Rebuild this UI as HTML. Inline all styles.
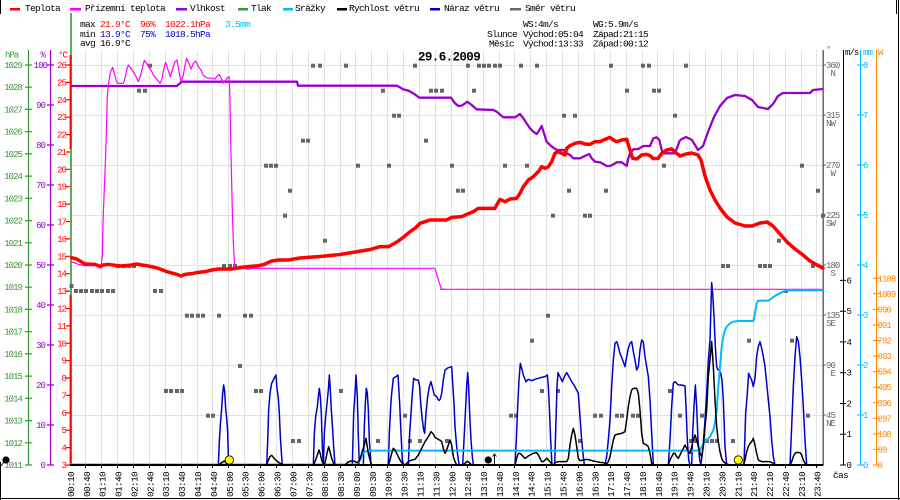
<!DOCTYPE html>
<html><head><meta charset="utf-8"><style>
html,body{margin:0;padding:0;background:#fff;}
svg{display:block;}
text{font-family:"Liberation Mono","DejaVu Sans Mono",monospace;font-size:9.5px;letter-spacing:-0.7px;}
.ax text, text.ax{font-size:9px;letter-spacing:-0.95px;}
</style></head><body>
<svg width="900" height="500" viewBox="0 0 900 500" xmlns="http://www.w3.org/2000/svg">
<rect width="900" height="500" fill="#fff"/>
<!-- borders -->
<path d="M0.5 0V14M0.5 462V500M898.5 0V500M0 498.5H900M896.5 0V14" stroke="#000" stroke-width="1" fill="none"/>

<!-- legend -->
<rect x="10" y="8" width="10" height="2.5" fill="#ff0000"/><text x="25" y="11">Teplota</text>
<rect x="70" y="8" width="11" height="2.5" fill="#ff00ff"/><text x="85" y="11">Přízemní teplota</text>
<rect x="176" y="8" width="11" height="2.5" fill="#9900cc"/><text x="190" y="11">Vlhkost</text>
<rect x="238" y="8" width="10" height="2.5" fill="#339933"/><text x="251" y="11">Tlak</text>
<rect x="283" y="8" width="10" height="2.5" fill="#00bbff"/><text x="295" y="11">Srážky</text>
<rect x="337" y="8" width="10" height="2.5" fill="#000"/><text x="349" y="11">Rychlost větru</text>
<rect x="430" y="8" width="10" height="2.5" fill="#0000cc"/><text x="444" y="11">Náraz větru</text>
<rect x="510" y="8" width="11" height="2.5" fill="#666"/><text x="525" y="11">Směr větru</text>

<!-- stats -->
<text x="80" y="27">max</text><text x="100" y="27" fill="#ff0000">21.9°C</text><text x="140" y="27" fill="#ff0000">96%</text><text x="165" y="27" fill="#ff0000">1022.1hPa</text><text x="225" y="27" fill="#00bbff">3.5mm</text>
<text x="80" y="37">min</text><text x="100" y="37" fill="#0000cc">13.9°C</text><text x="140" y="37" fill="#0000cc">75%</text><text x="165" y="37" fill="#0000cc">1018.5hPa</text>
<text x="80" y="46">avg 16.9°C</text>
<text x="523" y="27">WS:4m/s</text><text x="593" y="27">WG:5.9m/s</text>
<text x="487" y="37">Slunce</text><text x="523" y="37">Východ:05:04</text><text x="593" y="37">Západ:21:15</text>
<text x="489" y="46.5">Měsíc</text><text x="523" y="46.5">Východ:13:33</text><text x="593" y="46.5">Západ:00:12</text>

<!-- grid -->
<path d="M85.5 50V465M101.5 50V465M117.5 50V465M133.5 50V465M149.5 50V465M165.5 50V465M181.5 50V465M197.5 50V465M212.5 50V465M228.5 50V465M244.5 50V465M260.5 50V465M276.5 50V465M292.5 50V465M308.5 50V465M324.5 50V465M340.5 50V465M355.5 50V465M371.5 50V465M387.5 50V465M403.5 50V465M419.5 50V465M435.5 50V465M451.5 50V465M467.5 50V465M483.5 50V465M499.5 50V465M514.5 50V465M530.5 50V465M546.5 50V465M562.5 50V465M578.5 50V465M594.5 50V465M610.5 50V465M626.5 50V465M642.5 50V465M657.5 50V465M673.5 50V465M689.5 50V465M705.5 50V465M721.5 50V465M737.5 50V465M753.5 50V465M769.5 50V465M785.5 50V465M801.5 50V465M816.5 50V465M70 65.5H823M70 115.5H823M70 165.5H823M70 215.5H823M70 265.5H823M70 315.5H823M70 365.5H823M70 415.5H823" stroke="#e4e1e1" stroke-width="1" fill="none"/>

<!-- left axes -->
<path d="M28.5 50V465M25 65H32M25 87.2H32M25 109.4H32M25 131.7H32M25 153.9H32M25 176.1H32M25 198.3H32M25 220.6H32M25 242.8H32M25 265H32M25 287.2H32M25 309.4H32M25 331.7H32M25 353.9H32M25 376.1H32M25 398.3H32M25 420.6H32M25 442.8H32M25 465H32" stroke="#339933" stroke-width="1.2" fill="none"/>
<path d="M50.5 50V465M47 65H54M47 105H54M47 145H54M47 185H54M47 225H54M47 265H54M47 305H54M47 345H54M47 385H54M47 425H54M47 465H54" stroke="#9900cc" stroke-width="1.2" fill="none"/>
<rect x="70.2" y="13" width="1.6" height="452" fill="#339933"/>
<rect x="69.6" y="55" width="2" height="94" fill="#ff0000"/>
<rect x="69.6" y="295" width="2" height="170" fill="#ff0000"/>
<path d="M66 65H70M66 82.4H70M66 99.8H70M66 117.2H70M66 134.6H70M66 152H70M66 169.3H70M66 186.7H70M66 204.1H70M66 221.5H70M66 238.9H70M66 256.3H70M66 273.7H70M66 291.1H70M66 308.5H70M66 325.9H70M66 343.3H70M66 360.7H70M66 378H70M66 395.4H70M66 412.8H70M66 430.2H70M66 447.6H70M66 465H70" stroke="#ff0000" stroke-width="1.2"/>
<text x="5" y="57.5" fill="#339933" class="ax">hPa</text>
<g fill="#339933" text-anchor="end" class="ax">
<text x="22" y="68">1029</text><text x="22" y="90.2">1028</text><text x="22" y="112.4">1027</text><text x="22" y="134.7">1026</text><text x="22" y="156.9">1025</text><text x="22" y="179.1">1024</text><text x="22" y="201.3">1023</text><text x="22" y="223.6">1022</text><text x="22" y="245.8">1021</text><text x="22" y="268">1020</text><text x="22" y="290.2">1019</text><text x="22" y="312.4">1018</text><text x="22" y="334.7">1017</text><text x="22" y="356.9">1016</text><text x="22" y="379.1">1015</text><text x="22" y="401.3">1014</text><text x="22" y="423.6">1013</text><text x="22" y="445.8">1012</text><text x="22" y="468">1011</text>
</g>
<g fill="#9900cc" text-anchor="end" class="ax">
<text x="45" y="57.5">%</text>
<text x="47" y="68">100</text><text x="45" y="108">90</text><text x="45" y="148">80</text><text x="45" y="188">70</text><text x="45" y="228">60</text><text x="45" y="268">50</text><text x="45" y="308">40</text><text x="45" y="348">30</text><text x="45" y="388">20</text><text x="45" y="428">10</text><text x="45" y="468">0</text>
</g>
<g fill="#ff0000" text-anchor="end" class="ax">
<text x="67" y="57.5">°C</text>
<text x="66" y="68">26</text><text x="66" y="85.4">25</text><text x="66" y="102.8">24</text><text x="66" y="120.2">23</text><text x="66" y="137.6">22</text><text x="66" y="155">21</text><text x="66" y="172.3">20</text><text x="66" y="189.7">19</text><text x="66" y="207.1">18</text><text x="66" y="224.5">17</text><text x="66" y="241.9">16</text><text x="66" y="259.3">15</text><text x="66" y="276.7">14</text><text x="66" y="294.1">13</text><text x="66" y="311.5">12</text><text x="66" y="328.9">11</text><text x="66" y="346.3">10</text><text x="66" y="363.7">9</text><text x="66" y="381">8</text><text x="66" y="398.4">7</text><text x="66" y="415.8">6</text><text x="66" y="433.2">5</text><text x="66" y="450.6">4</text><text x="66" y="468">3</text>
</g>

<!-- right axes -->
<path d="M823.2 50V465" stroke="#666" stroke-width="1.5"/>
<path d="M823 65H826M823 115H826M823 165H826M823 215H826M823 265H826M823 315H826M823 365H826M823 415H826" stroke="#666" stroke-width="1"/>
<g fill="#666" class="ax">
<text x="826" y="52">°</text>
<text x="826" y="68">360</text><text x="835" y="76" text-anchor="end">N</text>
<text x="826" y="118">315</text><text x="835" y="126" text-anchor="end">NW</text>
<text x="826" y="168">270</text><text x="835" y="176" text-anchor="end">W</text>
<text x="826" y="218">225</text><text x="835" y="226" text-anchor="end">SW</text>
<text x="826" y="268">180</text><text x="835" y="276" text-anchor="end">S</text>
<text x="826" y="318">135</text><text x="835" y="326" text-anchor="end">SE</text>
<text x="826" y="368">90</text><text x="835" y="376" text-anchor="end">E</text>
<text x="826" y="418">45</text><text x="835" y="426" text-anchor="end">NE</text>
</g>
<path d="M843.5 50V465M840 465H846M840 434.2H846M840 403.5H846M840 372.7H846M840 341.9H846M840 311.2H846M840 280.4H846" stroke="#000" stroke-width="1" fill="none"/>
<g fill="#000" class="ax">
<text x="845" y="55">m/s</text>
<text x="846.5" y="468">0</text><text x="846.5" y="437.2">1</text><text x="846.5" y="406.5">2</text><text x="846.5" y="375.7">3</text><text x="846.5" y="344.9">4</text><text x="846.5" y="314.2">5</text><text x="846.5" y="283.4">6</text>
</g>
<text x="833" y="478">čas</text>
<path d="M860.5 50V465M857 465H864M857 415H864M857 365H864M857 315H864M857 265H864M857 215H864M857 165H864M857 115H864M857 65H864" stroke="#00bbff" stroke-width="1" fill="none"/>
<g fill="#00bbff" class="ax">
<text x="863" y="55">mm</text>
<text x="863" y="468">0</text><text x="863" y="418">1</text><text x="863" y="368">2</text><text x="863" y="318">3</text><text x="863" y="268">4</text><text x="863" y="218">5</text><text x="863" y="168">6</text><text x="863" y="118">7</text><text x="863" y="68">8</text>
</g>
<path d="M876.5 50V465M873 465H880M873 449.4H880M873 433.9H880M873 418.3H880M873 402.8H880M873 387.2H880M873 371.6H880M873 356.1H880M873 340.5H880M873 325H880M873 309.4H880M873 293.8H880M873 278.3H880" stroke="#ff8800" stroke-width="1" fill="none"/>
<g fill="#ff8800" class="ax">
<text x="878" y="55">W</text>
<text x="877.5" y="468">0</text><text x="877.5" y="452.4">99</text><text x="877.5" y="436.9">198</text><text x="877.5" y="421.3">297</text><text x="877.5" y="405.8">396</text><text x="877.5" y="390.2">495</text><text x="877.5" y="374.6">594</text><text x="877.5" y="359.1">693</text><text x="877.5" y="343.5">792</text><text x="877.5" y="328">891</text><text x="877.5" y="312.4">990</text><text x="877.5" y="296.8">1089</text><text x="877.5" y="281.3">1188</text>
</g>

<!-- wind direction markers -->
<g fill="#666">
<rect x="148" y="63.7" width="4" height="4"/><rect x="311" y="63.7" width="4" height="4"/><rect x="318" y="63.7" width="4" height="4"/><rect x="344" y="63.7" width="4" height="4"/><rect x="413" y="63.7" width="4" height="4"/><rect x="466" y="63.7" width="4" height="4"/><rect x="477" y="63.7" width="4" height="4"/><rect x="482" y="63.7" width="4" height="4"/><rect x="487" y="63.7" width="4" height="4"/><rect x="493" y="63.7" width="4" height="4"/><rect x="498" y="63.7" width="4" height="4"/><rect x="519" y="63.7" width="4" height="4"/><rect x="535" y="63.7" width="4" height="4"/><rect x="609" y="63.7" width="4" height="4"/><rect x="641" y="63.7" width="4" height="4"/><rect x="647" y="63.7" width="4" height="4"/><rect x="684" y="63.7" width="4" height="4"/>
<rect x="137" y="88.7" width="4" height="4"/><rect x="143" y="88.7" width="4" height="4"/><rect x="381" y="88.7" width="4" height="4"/><rect x="429" y="88.7" width="4" height="4"/><rect x="434" y="88.7" width="4" height="4"/><rect x="440" y="88.7" width="4" height="4"/><rect x="472" y="88.7" width="4" height="4"/><rect x="625" y="88.7" width="4" height="4"/><rect x="652" y="88.7" width="4" height="4"/><rect x="657" y="88.7" width="4" height="4"/>
<rect x="392" y="113.7" width="4" height="4"/><rect x="397" y="113.7" width="4" height="4"/><rect x="562" y="113.7" width="4" height="4"/><rect x="573" y="113.7" width="4" height="4"/><rect x="673" y="113.7" width="4" height="4"/>
<rect x="301" y="138.7" width="4" height="4"/><rect x="306" y="138.7" width="4" height="4"/><rect x="424" y="138.7" width="4" height="4"/>
<rect x="264" y="163.7" width="4" height="4"/><rect x="269" y="163.7" width="4" height="4"/><rect x="274" y="163.7" width="4" height="4"/><rect x="356" y="163.7" width="4" height="4"/><rect x="387" y="163.7" width="4" height="4"/><rect x="450" y="163.7" width="4" height="4"/><rect x="503" y="163.7" width="4" height="4"/><rect x="525" y="163.7" width="4" height="4"/><rect x="662" y="163.7" width="4" height="4"/><rect x="800" y="163.7" width="4" height="4"/>
<rect x="288" y="188.7" width="4" height="4"/><rect x="456" y="188.7" width="4" height="4"/><rect x="461" y="188.7" width="4" height="4"/><rect x="567" y="188.7" width="4" height="4"/><rect x="604" y="188.7" width="4" height="4"/><rect x="816" y="188.7" width="4" height="4"/>
<rect x="283" y="213.7" width="4" height="4"/><rect x="551" y="213.7" width="4" height="4"/><rect x="583" y="213.7" width="4" height="4"/><rect x="588" y="213.7" width="4" height="4"/><rect x="821" y="213.7" width="4" height="4"/>
<rect x="323" y="238.7" width="4" height="4"/><rect x="777" y="238.7" width="4" height="4"/>
<rect x="116" y="264" width="4" height="4"/><rect x="122" y="264" width="4" height="4"/><rect x="127" y="264" width="4" height="4"/><rect x="132" y="264" width="4" height="4"/><rect x="222" y="264" width="4" height="4"/><rect x="228" y="264" width="4" height="4"/><rect x="233" y="264" width="4" height="4"/><rect x="721" y="264" width="4" height="4"/><rect x="726" y="264" width="4" height="4"/><rect x="758" y="264" width="4" height="4"/><rect x="763" y="264" width="4" height="4"/><rect x="768" y="264" width="4" height="4"/><rect x="811" y="264" width="4" height="4"/>
<rect x="69.5" y="284" width="4" height="4"/>
<rect x="74" y="289" width="4" height="4"/><rect x="79" y="289" width="4" height="4"/><rect x="84" y="289" width="4" height="4"/><rect x="90" y="289" width="4" height="4"/><rect x="95" y="289" width="4" height="4"/><rect x="100" y="289" width="4" height="4"/><rect x="106" y="289" width="4" height="4"/><rect x="111" y="289" width="4" height="4"/><rect x="153" y="289" width="4" height="4"/><rect x="159" y="289" width="4" height="4"/><rect x="784" y="289" width="4" height="4"/>
<rect x="185" y="313.7" width="4" height="4"/><rect x="190" y="313.7" width="4" height="4"/><rect x="196" y="313.7" width="4" height="4"/><rect x="201" y="313.7" width="4" height="4"/><rect x="217" y="313.7" width="4" height="4"/><rect x="243" y="313.7" width="4" height="4"/><rect x="249" y="313.7" width="4" height="4"/><rect x="546" y="313.7" width="4" height="4"/>
<rect x="530" y="338.7" width="4" height="4"/><rect x="747" y="338.7" width="4" height="4"/><rect x="790" y="338.7" width="4" height="4"/>
<rect x="238" y="364" width="4" height="4"/>
<rect x="164" y="389" width="4" height="4"/><rect x="169" y="389" width="4" height="4"/><rect x="175" y="389" width="4" height="4"/><rect x="180" y="389" width="4" height="4"/><rect x="254" y="389" width="4" height="4"/><rect x="259" y="389" width="4" height="4"/><rect x="339" y="389" width="4" height="4"/><rect x="540" y="389" width="4" height="4"/><rect x="556" y="389" width="4" height="4"/><rect x="668" y="389" width="4" height="4"/>
<rect x="206" y="413.7" width="4" height="4"/><rect x="211" y="413.7" width="4" height="4"/><rect x="403" y="413.7" width="4" height="4"/><rect x="509" y="413.7" width="4" height="4"/><rect x="514" y="413.7" width="4" height="4"/><rect x="593" y="413.7" width="4" height="4"/><rect x="599" y="413.7" width="4" height="4"/><rect x="615" y="413.7" width="4" height="4"/><rect x="620" y="413.7" width="4" height="4"/><rect x="631" y="413.7" width="4" height="4"/><rect x="636" y="413.7" width="4" height="4"/><rect x="678" y="413.7" width="4" height="4"/><rect x="700" y="413.7" width="4" height="4"/><rect x="806" y="413.7" width="4" height="4"/>
<rect x="291" y="439" width="4" height="4"/><rect x="297" y="439" width="4" height="4"/><rect x="376" y="439" width="4" height="4"/><rect x="408" y="439" width="4" height="4"/><rect x="418" y="439" width="4" height="4"/><rect x="445" y="439" width="4" height="4"/><rect x="578" y="439" width="4" height="4"/><rect x="689" y="439" width="4" height="4"/><rect x="694" y="439" width="4" height="4"/><rect x="705" y="439" width="4" height="4"/><rect x="710" y="439" width="4" height="4"/><rect x="715" y="439" width="4" height="4"/><rect x="731" y="439" width="4" height="4"/>
</g>

<!-- humidity -->
<g fill="none" stroke="#9900cc" stroke-width="2.3" stroke-linejoin="round">
<polyline transform="translate(65,55) scale(0.33333)" vector-effect="non-scaling-stroke" points="20,93 335,93 345,85 350,80 600,80"/>
<polyline points="265,81.7 297,81.7 298,85.7 381,85.7"/>
<polyline transform="translate(380,40) scale(0.33333)" vector-effect="non-scaling-stroke" points="0,137 50,137 60,142 70,148 85,152 100,160 118,173 213,173 225,190 235,198 245,197 262,185 275,195 290,208 340,210 350,215 370,232 405,232 420,222 430,235 440,250 450,265 460,275 470,282 478,270 485,258 492,280 500,305 510,315 520,323 530,330 550,330 560,340 570,345 580,355 600,355 610,350 628,342 635,355 645,365 660,367 670,372 680,378 690,378 700,373 710,367 725,367 740,378 745,355 750,340 760,328 775,327 790,318 810,318 820,295 830,292 838,300 845,330 850,340 885,340 900,300"/>
<polyline points="680,140 686,137 692,140 698,150 703,146 708,132 714,117 720,106 727,98 735,95 745,96 752,100 758,107 768,109 773,104 778,96 783,93 810,93 813,90 823,89"/>
</g>

<!-- ground temperature -->
<g fill="none" stroke="#ff00ff" stroke-width="1.2" stroke-linejoin="round">
<polyline transform="translate(65,55) scale(0.33333)" vector-effect="non-scaling-stroke" points="20,620 40,628 60,632 100,632 108,640 112,600 114,500 118,400 122,300 125,200 127,120 130,90 133,70 137,50 143,37 148,55 153,75 158,85 175,85 180,70 185,45 190,30 198,40 205,50 213,65 220,80 227,60 233,35 238,16 245,25 252,38 258,45 265,60 275,72 285,85 290,75 297,40 302,22 310,48 316,65 322,45 330,20 336,15 342,50 348,80 355,60 360,30 365,10 372,25 378,42 385,25 392,18 400,35 408,45 415,62 425,68 440,70 450,72 455,65 462,58 468,68 475,85 482,75 488,68 492,65 494,95 496,200 498,300 500,380 502,470 505,560 508,620 510,645"/>
<polyline transform="translate(65,260) scale(0.33333)" vector-effect="non-scaling-stroke" points="510,30 515,28 540,25 550,28 560,25 1110,25 1120,60 1130,88 1140,88"/>
<polyline points="440,289.3 823,289.3"/>
</g>

<!-- temperature -->
<g fill="none" stroke="#ff0000" stroke-width="3.5" stroke-linejoin="round" stroke-linecap="round">
<polyline transform="translate(65,55) scale(0.33333)" vector-effect="non-scaling-stroke" points="20,608 35,612 45,618 60,627 90,628 105,634 115,630 130,628 150,631 170,633 200,630 215,627 230,630 245,632 260,635 280,640 300,648 320,654 335,658 348,663 360,658 380,656 400,652 420,650 440,645 460,642 500,642"/>
<polyline points="231.7,269 241.7,267.3 251.7,266.3 258.3,265.7 263.3,264.7 266.7,263.3 270,261.7 273.3,260.7 278.3,260 288,260 300,258 320,256.5 340,254.5 355,252 370,249.5 380,246.7"/>
<polyline transform="translate(380,40) scale(0.33333)" vector-effect="non-scaling-stroke" points="0,620 25,620 40,612 55,603 70,592 90,575 105,565 120,550 135,545 150,540 200,540 215,532 245,530 260,523 280,515 295,505 345,505 350,495 360,478 375,485 390,477 410,475 420,460 430,440 445,420 460,410 475,395 485,380 495,385 505,380 515,365 525,340 535,335 545,340 555,345 560,325 570,317 585,310 600,307 615,312 630,313 645,305 660,305 675,298 690,292 700,300 710,305 725,300 740,298 750,330 758,355 770,357 785,345 800,343 810,347 820,356 835,355 845,340 860,330 875,327 890,340 900,348"/>
<polyline points="680,156 686,154 692,153 698,155 701,160 705,176 710,190 715,200 720,208 727,217 735,223 745,226 752,226 760,223 767,222 773,226 780,234 787,242 795,249 803,255 810,261 817,265 823,268"/>
</g>

<!-- gusts -->
<g fill="none" stroke="#0000cc" stroke-width="1.5" stroke-linejoin="round">
<polyline transform="translate(65,260) scale(0.33333)" vector-effect="non-scaling-stroke" points="15,615 460,615 463,545 466,495 470,445 473,400 476,375 479,395 482,445 485,475 488,515 490,590 491,615 605,615 608,545 611,450 615,400 620,370 625,360 630,350 633,345 636,385 640,415 643,460 646,530 650,590 652,615 745,615 748,520 752,470 757,440 760,410 763,385 766,410 769,460 772,560 775,615 778,520 782,470 786,430 790,390 793,345 796,390 799,450 803,510 806,560 810,615 862,615 866,460 870,400 873,345 877,410 880,530 883,615 895,615 898,500 901,430 904,385 907,400 910,450 913,540 918,615 970,615 973,520 977,440 980,400 985,355 993,350 999,345 1001,380 1004,430 1008,520 1012,600 1016,615 1030,615 1034,520 1038,460 1042,400 1046,355 1053,360 1060,360 1064,380 1068,440 1072,480 1076,510 1079,520 1083,460 1088,410 1093,380 1098,365 1103,385 1108,405 1115,410 1120,420 1125,421"/>
<polyline transform="translate(440,260) scale(0.33333)" vector-effect="non-scaling-stroke" points="0,420 5,400 10,360 15,330 25,323 35,320 38,370 42,430 45,500 50,560 55,600 58,615 68,615 72,540 76,460 80,380 83,338 86,380 89,460 93,540 97,590 100,615 225,615 229,540 233,440 237,360 241,310 245,325 250,345 258,365 265,358 275,362 285,358 295,355 305,352 315,350 322,345 325,380 328,440 332,540 336,615 344,615 348,480 351,380 354,338 360,350 367,365 373,350 380,338 387,350 395,365 402,375 410,390 415,400 420,470 425,540 430,590 433,615 495,615 500,590 505,540 510,480 515,380 520,300 525,250 530,245 535,260 540,280 548,300 555,320 560,290 565,265 570,250 575,245 580,275 585,300 590,330 595,320 600,270 605,240 610,245 615,290 620,320 625,350 630,420 635,520 640,615 685,615 690,540 695,440 700,370 705,365 715,375 725,375 735,378 738,440 742,540 746,600 750,615 755,615 758,520 762,440 766,375 770,440 774,540 778,590 782,615 786,590 790,550 795,480 800,400 805,300 810,240 815,68 818,100 822,170 826,260 830,320 834,330 838,330 842,340 846,360 850,420 855,560 860,615 912,615 917,460 922,400 926,340 930,350 935,360 940,380 945,355 950,290 955,260 960,245 965,265 970,290 975,320 980,370 985,420 990,470 995,540 1000,590 1005,615 1050,615 1055,500 1060,380 1065,290 1070,230 1075,245 1080,290 1085,360 1090,440 1095,540 1100,615 1150,615"/>
</g>

<!-- precipitation -->
<g fill="none" stroke="#00bbff" stroke-width="2" stroke-linejoin="round">
<polyline points="70,464.5 358.3,464.5"/>
<polyline transform="translate(65,260) scale(0.33333)" vector-effect="non-scaling-stroke" points="878,615 885,600 893,580 900,575 910,572 1140,572"/>
<polyline transform="translate(440,260) scale(0.33333)" vector-effect="non-scaling-stroke" points="0,572 780,572 785,560 790,550 800,540 810,530 820,510 825,490 830,450 835,380 840,320 845,260 850,230 855,210 860,200 870,190 880,185 895,183 940,183 945,160 950,130 955,122 985,122 995,115 1005,108 1015,102 1030,95 1035,91 1150,91"/>
</g>

<!-- wind speed -->
<path d="M70 465H823" stroke="#000" stroke-width="2"/>
<g fill="none" stroke="#000" stroke-width="1.5" stroke-linejoin="round">
<polyline transform="translate(65,260) scale(0.33333)" vector-effect="non-scaling-stroke" points="15,615 460,615 470,608 478,603 485,610 490,615 605,615 610,600 615,590 620,586 625,592 630,598 640,607 650,612 655,615 745,615 752,600 757,585 762,570 766,582 770,600 775,612 778,615 782,600 787,575 791,560 795,575 800,595 805,608 810,615 840,615 848,607 858,603 866,603 870,605 878,608 885,598 893,570 898,555 903,535 906,555 910,580 915,600 920,615 970,615 975,600 980,580 985,565 990,570 995,580 1000,590 1005,600 1010,608 1015,612 1020,615 1030,605 1040,600 1050,598 1060,585 1070,565 1080,545 1090,530 1098,515 1105,522 1110,532 1120,538 1125,541"/>
<polyline transform="translate(440,260) scale(0.33333)" vector-effect="non-scaling-stroke" points="0,540 5,545 10,565 15,580 20,570 25,555 30,540 35,555 40,590 45,605 50,615 70,615 75,610 80,605 85,605 90,610 95,615 225,615 230,595 235,580 240,580 245,585 250,590 255,595 260,592 265,588 270,585 280,580 290,578 295,585 300,595 305,605 310,605 315,600 320,595 325,600 330,605 335,612 340,615 345,608 355,605 365,605 380,605 385,595 390,555 395,525 400,505 405,525 410,560 415,595 420,602 430,600 440,598 450,600 460,603 470,605 480,607 490,608 500,612 505,605 510,590 515,565 520,540 525,525 535,522 545,520 555,515 560,480 565,440 570,410 575,390 580,385 590,385 595,400 600,450 605,520 610,550 620,555 625,560 630,580 635,610 640,615 685,615 690,600 695,590 700,580 705,580 710,590 715,595 720,585 725,575 730,565 735,555 740,565 745,575 750,580 755,560 760,540 765,525 770,540 775,560 780,580 785,590 790,560 795,500 800,450 805,350 810,300 815,245 820,320 825,420 830,500 835,545 840,575 845,595 850,605 860,612 870,615 910,615 915,600 920,575 925,560 930,550 935,545 940,535 945,555 950,580 955,600 965,605 975,605 990,605 1000,610 1005,615 1050,615 1055,605 1060,590 1065,580 1070,577 1080,578 1085,585 1090,600 1095,610 1100,615 1150,615"/>
</g>

<!-- sun / moon icons -->
<circle cx="229.3" cy="460" r="4.2" fill="#ffff00" stroke="#000" stroke-width="0.8"/>
<circle cx="738.3" cy="460" r="4.2" fill="#ffff00" stroke="#000" stroke-width="0.8"/>
<circle cx="488.3" cy="460" r="3.6" fill="#000"/>
<path d="M494.5 465V454M492.5 456.5L494.5 454L496.5 456.5" stroke="#000" stroke-width="0.9" fill="none"/>
<circle cx="6" cy="460" r="3.6" fill="#000"/>
<path d="M1 466L4 462" stroke="#000" stroke-width="0.9"/>

<!-- x ticks -->
<path d="M85.5 465V468M101.5 465V468M117.5 465V468M133.5 465V468M149.5 465V468M165.5 465V468M181.5 465V468M197.5 465V468M212.5 465V468M228.5 465V468M244.5 465V468M260.5 465V468M276.5 465V468M292.5 465V468M308.5 465V468M324.5 465V468M340.5 465V468M355.5 465V468M371.5 465V468M387.5 465V468M403.5 465V468M419.5 465V468M435.5 465V468M451.5 465V468M467.5 465V468M483.5 465V468M499.5 465V468M514.5 465V468M530.5 465V468M546.5 465V468M562.5 465V468M578.5 465V468M594.5 465V468M610.5 465V468M626.5 465V468M642.5 465V468M657.5 465V468M673.5 465V468M689.5 465V468M705.5 465V468M721.5 465V468M737.5 465V468M753.5 465V468M769.5 465V468M785.5 465V468M801.5 465V468M816.5 465V468" stroke="#000" stroke-width="1"/>

<!-- x labels -->
<g fill="#000">
<text transform="translate(73.9,497) rotate(-90)">00:10</text>
<text transform="translate(89.8,497) rotate(-90)">00:40</text>
<text transform="translate(105.7,497) rotate(-90)">01:10</text>
<text transform="translate(121.6,497) rotate(-90)">01:40</text>
<text transform="translate(137.5,497) rotate(-90)">02:10</text>
<text transform="translate(153.4,497) rotate(-90)">02:40</text>
<text transform="translate(169.2,497) rotate(-90)">03:10</text>
<text transform="translate(185.1,497) rotate(-90)">03:40</text>
<text transform="translate(201,497) rotate(-90)">04:10</text>
<text transform="translate(216.9,497) rotate(-90)">04:40</text>
<text transform="translate(232.8,497) rotate(-90)">05:00</text>
<text transform="translate(248.7,497) rotate(-90)">05:30</text>
<text transform="translate(264.6,497) rotate(-90)">06:00</text>
<text transform="translate(280.5,497) rotate(-90)">06:30</text>
<text transform="translate(296.4,497) rotate(-90)">07:00</text>
<text transform="translate(312.3,497) rotate(-90)">07:30</text>
<text transform="translate(328.1,497) rotate(-90)">08:00</text>
<text transform="translate(344,497) rotate(-90)">08:30</text>
<text transform="translate(359.9,497) rotate(-90)">09:00</text>
<text transform="translate(375.8,497) rotate(-90)">09:30</text>
<text transform="translate(391.7,497) rotate(-90)">10:00</text>
<text transform="translate(407.6,497) rotate(-90)">10:30</text>
<text transform="translate(423.5,497) rotate(-90)">11:10</text>
<text transform="translate(439.4,497) rotate(-90)">11:30</text>
<text transform="translate(455.3,497) rotate(-90)">12:00</text>
<text transform="translate(471.2,497) rotate(-90)">12:40</text>
<text transform="translate(487,497) rotate(-90)">13:10</text>
<text transform="translate(502.9,497) rotate(-90)">13:40</text>
<text transform="translate(518.8,497) rotate(-90)">14:10</text>
<text transform="translate(534.7,497) rotate(-90)">14:40</text>
<text transform="translate(550.6,497) rotate(-90)">15:10</text>
<text transform="translate(566.5,497) rotate(-90)">15:40</text>
<text transform="translate(582.4,497) rotate(-90)">16:00</text>
<text transform="translate(598.3,497) rotate(-90)">16:30</text>
<text transform="translate(614.2,497) rotate(-90)">17:10</text>
<text transform="translate(630.1,497) rotate(-90)">17:40</text>
<text transform="translate(645.9,497) rotate(-90)">18:10</text>
<text transform="translate(661.8,497) rotate(-90)">18:40</text>
<text transform="translate(677.7,497) rotate(-90)">19:10</text>
<text transform="translate(693.6,497) rotate(-90)">19:40</text>
<text transform="translate(709.5,497) rotate(-90)">20:10</text>
<text transform="translate(725.4,497) rotate(-90)">20:30</text>
<text transform="translate(741.3,497) rotate(-90)">21:10</text>
<text transform="translate(757.2,497) rotate(-90)">21:40</text>
<text transform="translate(773.1,497) rotate(-90)">22:10</text>
<text transform="translate(789,497) rotate(-90)">22:40</text>
<text transform="translate(804.8,497) rotate(-90)">23:10</text>
<text transform="translate(820.7,497) rotate(-90)">23:40</text>
</g>

<!-- title on top -->
<text x="418" y="60.5" style="font-size:12.5px;font-weight:bold;letter-spacing:-0.6px">29.6.2009</text>
</svg>
</body></html>
